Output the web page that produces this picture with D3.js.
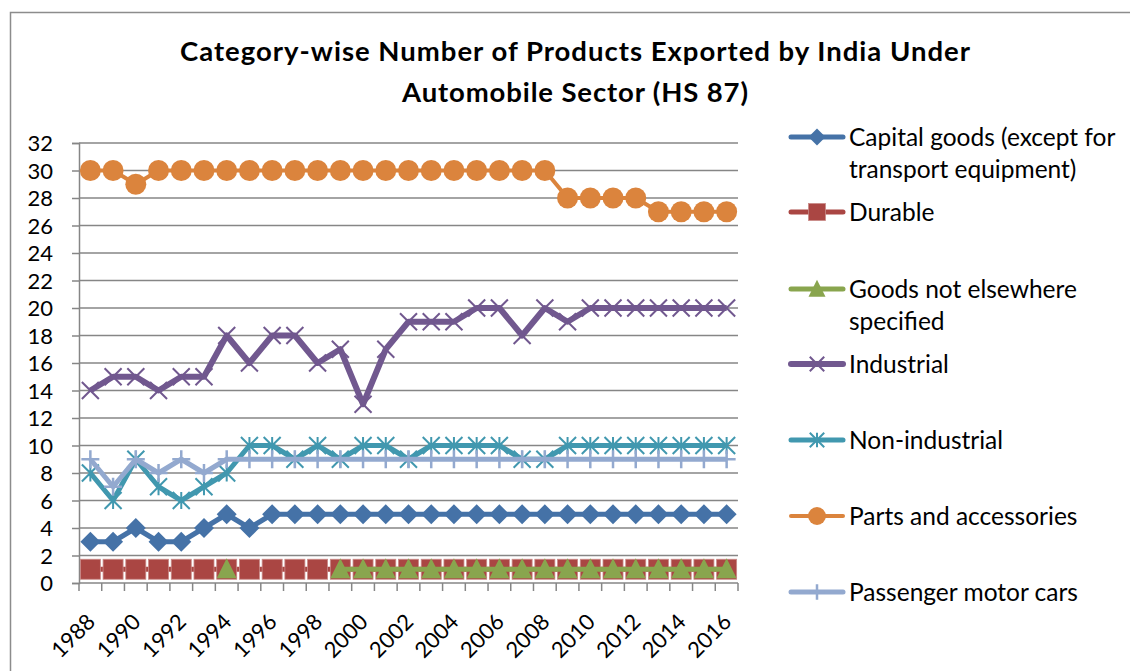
<!DOCTYPE html>
<html>
<head>
<meta charset="utf-8">
<script src="https://cdn.jsdelivr.net/npm/d3@7"></script>
<style>
  body { margin: 0; background: #fff; }
  svg text { font-family: Lato, "Open Sans", sans-serif; fill: #000; }
</style>
</head>
<body>
<div id="chart"></div>
<script>
// years on the category axis
const years = d3.range(1988, 2017);
const yTicks = d3.range(0, 33, 2);
const xLabels = years.filter(y => y % 2 === 0);

// series values, one per year (null = no data)
const capitalGoods = [3,3,4,3,3,4,5,4,5,5,5,5,5,5,5,5,5,5,5,5,5,5,5,5,5,5,5,5,5];
const durable      = [1,1,1,1,1,1,1,1,1,1,1,1,1,1,1,1,1,1,1,1,1,1,1,1,1,1,1,1,1];
const goodsNes     = [null,null,null,null,null,null,1,null,null,null,null,1,1,1,1,1,1,1,1,1,1,1,1,1,1,1,1,1,1];
const industrial   = [14,15,15,14,15,15,18,16,18,18,16,17,13,17,19,19,19,20,20,18,20,19,20,20,20,20,20,20,20];
const nonIndustrial= [8,6,9,7,6,7,8,10,10,9,10,9,10,10,9,10,10,10,10,9,9,10,10,10,10,10,10,10,10];
const partsAcc     = [30,30,29,30,30,30,30,30,30,30,30,30,30,30,30,30,30,30,30,30,30,28,28,28,28,27,27,27,27];
const passengerCars= [9,7,9,8,9,8,9,9,9,9,9,9,9,9,9,9,9,9,9,9,9,9,9,9,9,9,9,9,9];

const seriesNames = [
  ["Capital goods (except for", "transport equipment)"],
  ["Durable"],
  ["Goods not elsewhere", "specified"],
  ["Industrial"],
  ["Non-industrial"],
  ["Parts and accessories"],
  ["Passenger motor cars"]
];
const seriesValues = [capitalGoods, durable, goodsNes, industrial, nonIndustrial, partsAcc, passengerCars];
const colors = ["#4572A7", "#AA4643", "#89A54E", "#71588F", "#4198AF", "#DB843D", "#93A9CF"];
const markers = ["diamond", "square", "triangle", "x", "star", "circle", "plus"];
const lineW = [5, 5, 5, 6, 5, 4, 5];

const W = 1130, H = 671;
const margin = {top: 143, left: 79, right: 392, bottom: 88};

const svg = d3.select("#chart").append("svg")
  .attr("width", W).attr("height", H);

// outer chart border
svg.append("rect")
  .attr("x", 10.5).attr("y", 12.5)
  .attr("width", W + 20).attr("height", H + 20)
  .attr("fill", "none").attr("stroke", "#8c8c8c").attr("stroke-width", 1.5);

// title
const title = svg.append("text")
  .attr("text-anchor", "middle")
  .style("font-weight", "bold").style("font-size", "27.5px");
title.append("tspan").attr("x", 575).attr("y", 61)
  .attr("textLength", 790).attr("lengthAdjust", "spacing")
  .text("Category-wise Number of Products Exported by India Under");
title.append("tspan").attr("x", 575).attr("y", 102)
  .attr("textLength", 346).attr("lengthAdjust", "spacing")
  .text("Automobile Sector (HS 87)");

const x = d3.scaleBand().domain(years).range([margin.left, W - margin.right]);
const y = d3.scaleLinear().domain([0, 32]).range([H - margin.bottom, margin.top]);

// grid
svg.append("g").selectAll("line").data(yTicks.slice(1)).join("line")
  .attr("x1", margin.left).attr("x2", W - margin.right)
  .attr("y1", d => y(d)).attr("y2", d => y(d))
  .attr("stroke", "#868686").attr("stroke-width", 1.5);

// y axis
const yAxis = svg.append("g")
  .attr("transform", `translate(${margin.left},0)`)
  .call(d3.axisLeft(y).tickValues(yTicks).tickSize(7).tickPadding(19));
yAxis.select(".domain").attr("stroke", "#868686").attr("stroke-width", 1.5);
yAxis.selectAll(".tick line").attr("stroke", "#868686").attr("stroke-width", 1.5);
yAxis.selectAll("text").style("font-size", "22px").attr("dy", "0.35em");

// x axis: ticks between categories
const xg = svg.append("g").attr("transform", `translate(0,${y(0)})`);
xg.append("line").attr("x1", margin.left).attr("x2", W - margin.right)
  .attr("stroke", "#868686").attr("stroke-width", 1.5);
xg.selectAll(".tk").data(years.concat([2017])).join("line").attr("class", "tk")
  .attr("x1", (d, i) => margin.left + i * x.bandwidth())
  .attr("x2", (d, i) => margin.left + i * x.bandwidth())
  .attr("y1", 0).attr("y2", 8)
  .attr("stroke", "#868686").attr("stroke-width", 1.5);
xg.selectAll(".lbl").data(xLabels).join("text").attr("class", "lbl")
  .attr("text-anchor", "end")
  .style("font-size", "22px")
  .attr("transform", d => `translate(${x(d) + x.bandwidth() / 2 - 5},${29}) rotate(-45)`)
  .attr("dy", "0.72em")
  .text(d => d);

// marker drawing
function drawMarker(g, type, color, s) {
  s = s || 1;
  if (type === "diamond") {
    const r = 10 * s;
    g.append("path").attr("d", `M0,${-r}L${r},0L0,${r}L${-r},0Z`).attr("fill", color);
  } else if (type === "square") {
    const r = 10 * s;
    g.append("rect").attr("x", -r).attr("y", -r).attr("width", 2 * r).attr("height", 2 * r)
      .attr("fill", color).attr("stroke", "#c98a88").attr("stroke-width", 0.8);
  } else if (type === "triangle") {
    const r = 10 * s;
    g.append("path").attr("d", `M0,${-r * 1.1}L${r},${r * 0.9}L${-r},${r * 0.9}Z`).attr("fill", color);
  } else if (type === "circle") {
    g.append("circle").attr("r", 10.5 * s).attr("fill", color);
  } else if (type === "x") {
    const r = 8.5 * s;
    g.append("path").attr("d", `M${-r},${-r}L${r},${r}M${-r},${r}L${r},${-r}`)
      .attr("stroke", color).attr("stroke-width", 2);
  } else if (type === "star") {
    const r = 8.5 * s;
    g.append("path").attr("d", `M${-r},${-r}L${r},${r}M${-r},${r}L${r},${-r}M0,${-r}L0,${r}`)
      .attr("stroke", color).attr("stroke-width", 2);
  } else if (type === "plus") {
    const r = 9 * s;
    g.append("path").attr("d", `M0,${-r}L0,${r}M${-r},0L${r},0`)
      .attr("stroke", color).attr("stroke-width", 2.5);
  }
}

const cx = d => x(d) + x.bandwidth() / 2;
const line = d3.line()
  .defined(d => d.v != null)
  .x(d => cx(d.year)).y(d => y(d.v));

seriesValues.forEach((vals, si) => {
  const pts = vals.map((v, i) => ({year: years[i], v: v}));
  const g = svg.append("g");
  g.append("path").datum(pts)
    .attr("d", line)
    .attr("fill", "none").attr("stroke", colors[si])
    .attr("stroke-width", lineW[si]).attr("stroke-linejoin", "round");
  pts.filter(p => p.v != null).forEach(p => {
    const mg = g.append("g").attr("transform", `translate(${cx(p.year)},${y(p.v)})`);
    drawMarker(mg, markers[si], colors[si]);
  });
});

// legend
const legendY = [137, 212, 289, 364, 440, 516, 592];
const leg = svg.append("g");
seriesNames.forEach((names, si) => {
  const g = leg.append("g").attr("transform", `translate(0,${legendY[si]})`);
  g.append("line").attr("x1", 791).attr("x2", 843)
    .attr("stroke", colors[si]).attr("stroke-width", lineW[si]).attr("stroke-linecap", "round");
  const mg = g.append("g").attr("transform", "translate(817,0)");
  drawMarker(mg, markers[si], colors[si], 0.85);
  const t = g.append("text").style("font-size", "24.5px");
  names.forEach((n, k) => {
    t.append("tspan").attr("x", 849).attr("y", k * 32).attr("dy", "0.35em").text(n);
  });
});
</script>
</body>
</html>
